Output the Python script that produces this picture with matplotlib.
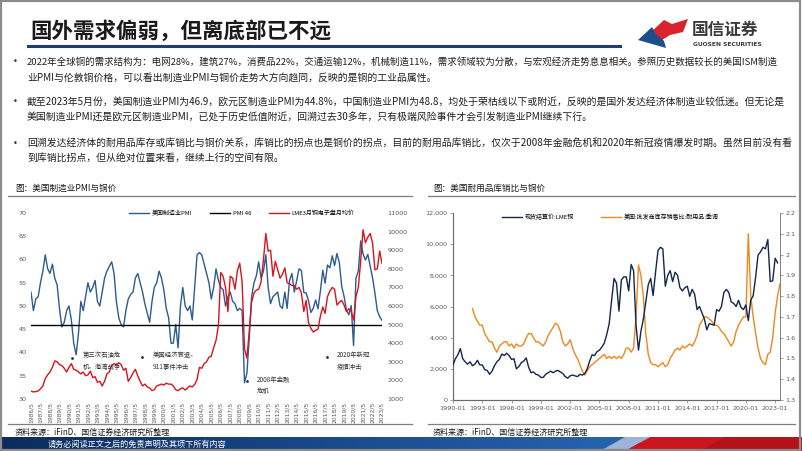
import matplotlib
matplotlib.use('Agg')
import matplotlib.pyplot as plt
import matplotlib.dates as mdates
from matplotlib.patches import Rectangle, Polygon
from matplotlib.lines import Line2D
from matplotlib.ticker import FuncFormatter
import pandas as pd
import numpy as np

plt.rcParams['font.family'] = ['Noto Sans CJK SC', 'DejaVu Sans']
plt.rcParams['axes.unicode_minus'] = False

# ---------------- data ----------------
title = '国外需求偏弱，但离底部已不远'
bullets = [
    ['2022年全球铜的需求结构为：电网28%，建筑27%，消费品22%，交通运输12%，机械制造11%，需求领域较为分散，与宏观经济走势息息相关。参照历史数据较长的美国ISM制造',
     '业PMI与伦敦铜价格，可以看出制造业PMI与铜价走势大方向趋同，反映的是铜的工业品属性。'],
    ['截至2023年5月份，美国制造业PMI为46.9，欧元区制造业PMI为44.8%，中国制造业PMI为48.8，均处于荣枯线以下或附近，反映的是国外发达经济体制造业较低迷。但无论是',
     '美国制造业PMI还是欧元区制造业PMI，已处于历史低值附近，回溯过去30多年，只有极端风险事件才会引发制造业PMI继续下行。'],
    ['回溯发达经济体的耐用品库存或库销比与铜价关系，库销比的拐点也是铜价的拐点，目前的耐用品库销比，仅次于2008年金融危机和2020年新冠疫情爆发时期。虽然目前没有看',
     '到库销比拐点，但从绝对位置来看，继续上行的空间有限。'],
]

# Left chart: quarterly readings from 1986/5 to 2023/5
us_pmi = [
    53.0, 49.0, 51.5,
    52.0, 55.0, 57.5, 61.0,
    58.0, 57.0, 59.0, 56.0,
    54.5, 49.5, 45.5, 46.5,
    49.0, 50.0, 47.0, 42.0,
    39.5, 44.0, 51.0, 49.0,
    52.0, 55.0, 53.0, 54.0,
    55.5, 51.0, 50.0, 53.0,
    56.0, 57.5, 58.5, 59.5,
    57.0, 51.0, 47.5, 46.0,
    45.5, 49.0, 51.5, 52.5,
    53.0, 56.0, 57.0, 55.0,
    53.0, 50.5, 48.5, 46.5,
    51.0, 54.0, 55.0, 57.5,
    56.0, 53.5, 49.5, 47.5,
    42.0, 42.0, 46.0, 41.0,
    50.0, 54.0, 50.0, 49.0,
    50.0, 47.0, 54.0, 61.0,
    61.5, 61.0, 59.0, 57.0,
    55.0, 51.5, 54.0, 58.0,
    55.5, 54.0, 53.5, 50.0,
    52.0, 53.0, 51.0, 50.5,
    49.0, 49.5, 49.0, 33.5,
    35.5, 43.0, 52.0, 55.0,
    56.5, 59.5, 56.0, 57.5,
    61.0, 54.0, 50.5, 52.0,
    52.5, 53.0, 50.0, 49.5,
    53.0, 49.5, 55.5, 57.0,
    53.0, 55.4, 58.0, 57.6,
    52.9, 52.8, 51.1, 48.6,
    49.5, 51.3, 49.4, 53.2,
    57.7, 54.9, 58.8, 58.2,
    60.8, 58.7, 61.3, 59.3,
    54.2, 52.1, 49.1, 48.1,
    50.1, 41.5, 56.0, 57.5,
    64.0, 61.2, 59.9, 61.1,
    58.6, 56.1, 52.8, 49.0,
    47.7, 46.9,
]
pmi_threshold = 46
lme_3m = [
    1420, 1380, 1400,
    1430, 1550, 1700, 2100,
    2300, 2450, 2700, 3050,
    3000, 2850, 2800, 2650,
    2450, 2700, 2900, 2600,
    2550, 2450, 2350, 2450,
    2250, 2300, 2500, 2150,
    2200, 1900, 1950, 1700,
    1950, 2350, 2450, 2800,
    2900, 2850, 2950, 2850,
    2550, 2650, 1950, 2150,
    2400, 2600, 2250, 1950,
    1700, 1800, 1650, 1600,
    1450, 1500, 1700, 1750,
    1800, 1750, 1850, 1800,
    1800, 1700, 1500, 1450,
    1550, 1600, 1480, 1600,
    1700, 1650, 1780, 2050,
    2700, 2650, 2900, 3000,
    3250, 3300, 3750, 4150,
    4950, 7800, 7600, 7000,
    5700, 7600, 7500, 6900,
    7900, 8300, 7300, 3700,
    3200, 4600, 6200, 6700,
    6850, 6900, 7300, 8500,
    9900, 8950, 9000, 7600,
    8400, 7950, 7500, 7700,
    8050, 7250, 7200, 7100,
    7100, 6900, 7000, 6700,
    5700, 6300, 5100, 4800,
    4600, 4700, 4750, 5450,
    5950, 5600, 6500, 6800,
    7000, 6900, 6050, 6200,
    6300, 6050, 5700, 5850,
    5700, 5250, 6500, 7000,
    8450, 10100, 9400, 9700,
    9900, 9400, 7950, 8000,
    8950, 8300,
]
left_start = '1986-05-01'
left_ticks_start, left_ticks_end = 1986, 2023

# Right chart: quarterly readings
lme_cash_start = '1990-01-01'
lme_cash = [
    2250, 2650, 2900, 3300,
    2650, 2450, 2300, 2450,
    2200, 2300, 2550, 2250,
    2250, 1950, 1900, 1650,
    1850, 2200, 2450, 2600,
    2950, 2850, 3000, 2850,
    2600, 2650, 2000, 2150,
    2400, 2500, 2700, 2100,
    1750, 1800, 1650, 1600,
    1450, 1450, 1650, 1750,
    1850, 1750, 1850, 1900,
    1800, 1700, 1500, 1400,
    1550, 1600, 1550, 1500,
    1650, 1600, 1700, 2000,
    2500, 2900, 2850, 3100,
    3200, 3400, 3650, 4200,
    4900, 6400, 7800, 7500,
    5700, 7700, 7900, 7900,
    7000, 8700, 8300, 4800,
    3200, 4400, 5200, 6300,
    7400, 7800, 6700, 8200,
    9600, 9800, 9700, 7300,
    8000, 8300, 7600, 8200,
    8000, 7200, 7000, 7200,
    7300, 6650, 7100, 6800,
    5800, 6000, 5600, 5200,
    4500, 4900, 4850, 4800,
    5800, 5700, 6000, 6900,
    7100, 6900, 6300, 6200,
    6000, 6400, 5950, 5800,
    6100, 5100, 6400, 6700,
    7900, 9300, 9500, 9800,
    9700, 10300, 7600, 7650,
    9100, 8800,
]
inv_ratio_start = '1992-01-01'
inv_ratio = [
    1.74, 1.70, 1.68, 1.66,
    1.66, 1.62, 1.60, 1.58,
    1.58, 1.55, 1.53, 1.56,
    1.57, 1.58, 1.58, 1.56,
    1.57, 1.55, 1.57, 1.56,
    1.56, 1.57, 1.60, 1.62,
    1.62, 1.60, 1.58, 1.58,
    1.57, 1.56, 1.58, 1.61,
    1.63, 1.65, 1.67, 1.66,
    1.63, 1.58, 1.56, 1.57,
    1.59, 1.55, 1.52, 1.50,
    1.47, 1.44, 1.42, 1.44,
    1.46, 1.47, 1.48, 1.49,
    1.50, 1.51, 1.52, 1.50,
    1.51, 1.50, 1.51, 1.50,
    1.51, 1.50, 1.52, 1.55,
    1.55, 1.53, 1.55, 1.70,
    1.95, 1.90, 1.80, 1.62,
    1.52, 1.48, 1.47, 1.47,
    1.46, 1.47, 1.48, 1.46,
    1.47, 1.50, 1.52, 1.54,
    1.55, 1.54, 1.56, 1.55,
    1.56, 1.57, 1.56, 1.58,
    1.61, 1.66, 1.68, 1.70,
    1.70, 1.69, 1.68, 1.66,
    1.66, 1.65, 1.63, 1.62,
    1.60, 1.58, 1.56, 1.58,
    1.63, 1.66, 1.68, 1.70,
    1.70, 2.10, 1.80, 1.70,
    1.62, 1.55, 1.50, 1.48,
    1.47, 1.52, 1.53, 1.60,
    1.72, 1.80, 1.86,
]

left_title = '图：美国制造业PMI与铜价'
right_title = '图：美国耐用品库销比与铜价'
source = '资料来源：iFinD、国信证券经济研究所整理'
footer = '请务必阅读正文之后的免责声明及其项下所有内容'
left_labels = ['美国制造业PMI', 'PMI 46', 'LME3月铜电子盘月均价']
right_labels = ['现货结算价:LME铜', '美国:批发商库存销售比:耐用品:季调']
events = ['第三次石油危\n机，海湾战争', '美国经济衰退，\n911事件冲击', '2008年金融\n危机', '2020年新冠\n疫情冲击']

# ---------------- layout helpers ----------------
W, H = 802, 451
fig = plt.figure(figsize=(W / 100, H / 100), dpi=100)
fig.patch.set_facecolor('white')

def fx(x):
    return x / W

def fy(y):
    return 1 - y / H

def ftext(x, y, s, **kw):
    kw.setdefault('va', 'center')
    return fig.text(fx(x), fy(y), s, **kw)

def fline(x0, x1, y, **kw):
    fig.add_artist(Line2D([fx(x0), fx(x1)], [fy(y), fy(y)], transform=fig.transFigure, **kw))

# frame
fig.add_artist(Rectangle((0.001, 0.002), 0.997, 0.996, transform=fig.transFigure,
                         fill=False, ec='#8c8c8c', lw=1.6))

# header
ftext(30, 31, title, fontsize=15.5, fontweight='bold', color='#1a1a1a')
fline(28, 620, 46, color='#1f3c73', lw=2.2)

# logo
fig.add_artist(Polygon([(fx(x), fy(y)) for x, y in
                        [(650, 33), (664, 20), (672, 24), (688, 19), (683, 32), (670, 35), (662, 40)]],
                       closed=True, transform=fig.transFigure, fc='#d9232d', ec='none'))
fig.add_artist(Polygon([(fx(x), fy(y)) for x, y in
                        [(638, 40), (652, 27), (656, 34), (664, 41), (666, 48), (652, 44)]],
                       closed=True, transform=fig.transFigure, fc='#1f4e8c', ec='none'))
ftext(692, 30, '国信证券', fontsize=12, fontweight='bold', color='#3a3a3a')
ftext(693, 45, 'GUOSEN SECURITIES', fontsize=4.3, fontweight='bold', color='#3a3a3a',
      family=['DejaVu Sans'])

# bullets
bullet_y = [(62, 78), (102, 117), (143, 158)]
for i, (lines, ys) in enumerate(zip(bullets, bullet_y)):
    ftext(13, ys[0], '•', fontsize=6, color='#333333', family=['DejaVu Sans'])
    for j, (s, y) in enumerate(zip(lines, ys)):
        fs = 6.8 if (i == 0 and j == 0) else 7.1
        ftext(27, y, s, fontsize=fs, color='#1f1f1f')

# chart titles / rules / sources
ftext(15, 188, left_title, fontsize=6.2, color='#1a1a1a')
ftext(433, 188, right_title, fontsize=6.2, color='#1a1a1a')
fline(8, 412, 196, color='#7f7f7f', lw=0.9)
fline(428, 795, 196, color='#7f7f7f', lw=0.9)
fline(8, 412, 424, color='#7f7f7f', lw=0.9)
fline(428, 795, 424, color='#7f7f7f', lw=0.9)
ftext(15, 432, source, fontsize=5.8, color='#1a1a1a')
ftext(433, 432, source, fontsize=5.8, color='#1a1a1a')

# footer bar
axf = fig.add_axes([0, 0, 1, 14 / H])
axf.set_xlim(0, W)
axf.set_ylim(451, 437)
axf.axis('off')
grad = np.linspace(0, 1, 400)
c0 = np.array([0x0c, 0x2b, 0x5c]) / 255
c1 = np.array([0x27, 0x66, 0xb3]) / 255
img = (c0[None, :] * (1 - grad[:, None]) + c1[None, :] * grad[:, None])[None, :, :]
axf.imshow(img, extent=[0, 640, 451, 437], aspect='auto')
axf.add_patch(Polygon([(600, 451), (625, 437), (650, 437), (625, 451)], fc='#9fb3d6', ec='none'))
axf.add_patch(Polygon([(625, 451), (650, 437), (802, 437), (802, 451)], fc='#c9161f', ec='none'))
axf.add_patch(Polygon([(700, 451), (725, 437), (802, 437), (802, 451)], fc='#b3121b', ec='none'))
axf.text(48, 444, footer, fontsize=5.9, color='white', va='center')

# ---------------- left chart ----------------
ax1 = fig.add_axes([fx(31), fy(399), (382 - 31) / W, (399 - 213) / H])
d1 = pd.date_range(left_start, periods=len(us_pmi), freq='3MS')
d1c = pd.date_range(left_start, periods=len(lme_3m), freq='3MS')
l_pmi, = ax1.plot(d1, us_pmi, color='#2b5b8f', lw=1.0)
l_46 = ax1.axhline(pmi_threshold, color='black', lw=1.0)
ax1.set_ylim(30, 70)
ax1.set_yticks(range(30, 71, 5))
ax1.set_xlim(pd.Timestamp('1986-05-01'), pd.Timestamp('2023-05-01'))
xt = [pd.Timestamp(f'{y}-05-01') for y in range(left_ticks_start, left_ticks_end + 1)]
ax1.set_xticks(xt)
ax1.set_xticklabels([f'{t.year}/{t.month}' for t in xt], rotation=90, fontsize=4.3,
                    color='#595959', family=['DejaVu Sans'])
ax1.tick_params(axis='y', length=0, labelsize=4.6, labelcolor='#595959', pad=3)
ax1.tick_params(axis='x', length=0, pad=2)
for s in ax1.spines.values():
    s.set_visible(False)
ax1.set_facecolor('none')
ax1b = ax1.twinx()
l_cu, = ax1b.plot(d1c, lme_3m, color='#d7141d', lw=1.0)
ax1b.set_ylim(1000, 11000)
ax1b.set_yticks(range(1000, 11001, 1000))
ax1b.tick_params(axis='y', length=0, labelsize=4.6, labelcolor='#595959', pad=4)
for s in ax1b.spines.values():
    s.set_visible(False)
for lab in ax1.get_yticklabels() + ax1b.get_yticklabels():
    lab.set_family(['DejaVu Sans'])

fig.legend([l_pmi, l_46, l_cu], left_labels, loc='center left',
           bbox_to_anchor=(fx(129), fy(213)), ncol=3, frameon=False, fontsize=4.3,
           handlelength=3.3, handletextpad=0.5, columnspacing=3.0, borderpad=0, borderaxespad=0)

# event notes
ev_pos = [(72, 358, 83, 361), (142, 357, 153, 361), (247, 381, 257, 385), (327, 357, 337, 361)]
for txt, (dx, dy, tx, ty) in zip(events, ev_pos):
    fig.add_artist(Line2D([fx(dx)], [fy(dy)], marker='o', ms=1.0, color='#333333',
                          transform=fig.transFigure))
    ftext(tx, ty, txt, fontsize=4.6, color='#333333', linespacing=1.5)

# ---------------- right chart ----------------
ax2 = fig.add_axes([fx(453), fy(400), (780 - 453) / W, (400 - 213) / H])
d2 = pd.date_range(lme_cash_start, periods=len(lme_cash), freq='3MS')
d3 = pd.date_range(inv_ratio_start, periods=len(inv_ratio), freq='3MS')
r_cu, = ax2.plot(d2, lme_cash, color='#13264a', lw=1.0, zorder=3)
ax2.set_ylim(0, 12000)
ax2.set_yticks(range(0, 12001, 2000))
ax2.yaxis.set_major_formatter(FuncFormatter(lambda v, p: f'{v:,.0f}'))
ax2.set_xlim(pd.Timestamp('1990-01-01'), pd.Timestamp('2023-07-01'))
xt2 = [pd.Timestamp(f'{y}-01-01') for y in range(1990, 2024, 3)]
ax2.set_xticks(xt2)
ax2.set_xticklabels([t.strftime('%Y-%m') for t in xt2], fontsize=4.4, color='#595959',
                    family=['DejaVu Sans'])
ax2.tick_params(axis='both', length=2, width=0.5, color='#7f7f7f', direction='out',
                labelsize=4.6, labelcolor='#595959', pad=2)
ax2.spines['top'].set_visible(False)
for k in ['left', 'bottom', 'right']:
    ax2.spines[k].set_color('#7f7f7f')
    ax2.spines[k].set_linewidth(0.6)
ax2b = ax2.twinx()
r_inv, = ax2b.plot(d3, inv_ratio, color='#ef861f', lw=1.0)
ax2b.set_ylim(1.3, 2.2)
ax2b.set_yticks(np.round(np.arange(1.3, 2.21, 0.1), 1))
ax2b.yaxis.set_major_formatter(FuncFormatter(lambda v, p: f'{v:g}'))
ax2b.tick_params(axis='y', length=2, width=0.5, color='#7f7f7f', direction='out',
                 labelsize=4.6, labelcolor='#595959', pad=2)
ax2b.spines['top'].set_visible(False)
ax2b.spines['right'].set_color('#7f7f7f')
ax2b.spines['right'].set_linewidth(0.6)
for lab in ax2.get_yticklabels() + ax2b.get_yticklabels():
    lab.set_family(['DejaVu Sans'])
# put copper line above ratio line
ax2.set_zorder(ax2b.get_zorder() + 1)
ax2.patch.set_visible(False)

fig.legend([r_cu, r_inv], right_labels, loc='center left',
           bbox_to_anchor=(fx(502), fy(217)), ncol=2, frameon=False, fontsize=4.3,
           handlelength=3.3, handletextpad=0.5, columnspacing=4.6, borderpad=0, borderaxespad=0)

fig.savefig('out.png', dpi=100)
